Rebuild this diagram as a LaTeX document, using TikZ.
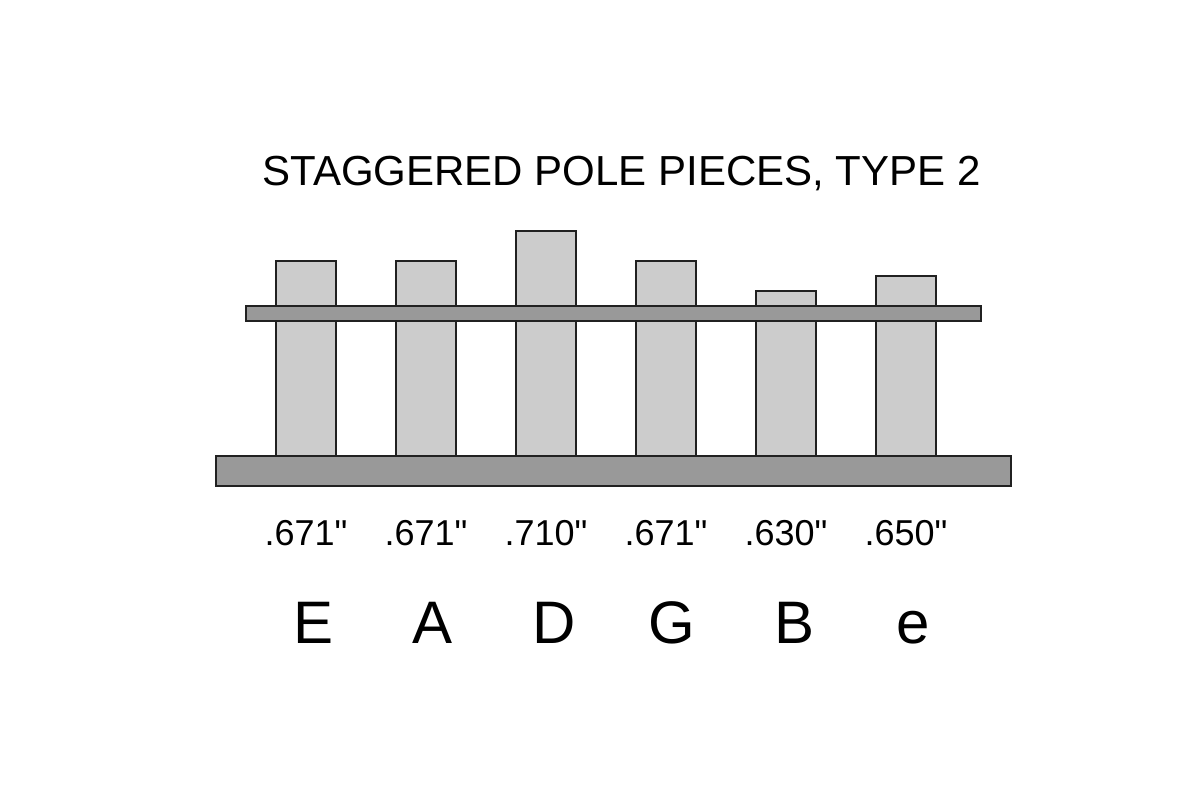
\documentclass[tikz,border=0pt]{standalone}
\usepackage{fontspec}
\setmainfont{Liberation Sans}[Ligatures=TeXOff]
\begin{document}
\begin{tikzpicture}[x=1pt,y=-1pt,
  pole/.style={draw=black!87,line width=1.3pt,fill=black!20},
  plate/.style={draw=black!87,line width=1.3pt,fill=black!40},
  titletext/.style={anchor=base,inner sep=0pt,font=\fontsize{42}{42}\selectfont},
  gauge/.style={anchor=base,inner sep=0pt,font=\fontsize{36}{36}\selectfont},
  strname/.style={anchor=base,inner sep=0pt,font=\fontsize{60}{60}\selectfont}]
\useasboundingbox (0,0) rectangle (1201,800);
\fill[white] (0,0) rectangle (1201,800);
\node[titletext] (title) at (621.5,185) {STAGGERED POLE PIECES, TYPE 2};
% pole pieces
\foreach \x/\t in {276/261,396/261,516/231,636/261,756/291,876/276}
  \draw[pole] (\x,\t) rectangle (\x+60,456);
% thin plate
\draw[plate] (246,306) rectangle (981,321);
% base
\draw[plate] (216,456) rectangle (1011,486);
% gauges
\node[gauge] (g1) at (306,545) {.671"};
\node[gauge] (g2) at (426,545) {.671"};
\node[gauge] (g3) at (546,545) {.710"};
\node[gauge] (g4) at (666,545) {.671"};
\node[gauge] (g5) at (786,545) {.630"};
\node[gauge] (g6) at (906,545) {.650"};
% string names
\node[strname] (s1) at (314,643) {E};
\node[strname] (s2) at (433,643) {A};
\node[strname] (s3) at (554,643) {D};
\node[strname] (s4) at (672,643) {G};
\node[strname] (s5) at (794,643) {B};
\node[strname] (s6) at (913,643) {e};
\end{tikzpicture}
\end{document}
